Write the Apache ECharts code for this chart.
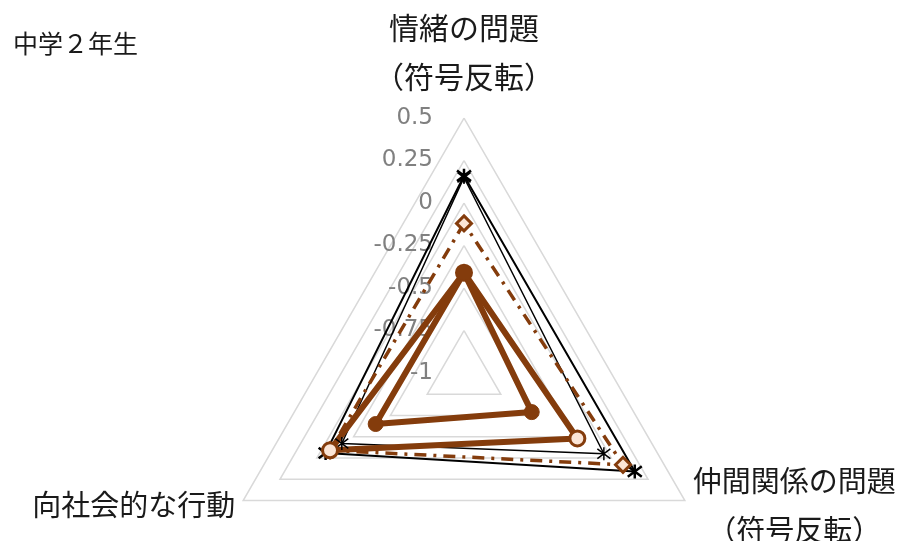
<!DOCTYPE html>
<html>
<head>
<meta charset="utf-8">
<script src="https://cdn.jsdelivr.net/npm/echarts@6/dist/echarts.min.js"></script>
<style>
  html, body { margin: 0; padding: 0; background: #fff; }
  #chart { width: 901px; height: 541px; }
</style>
</head>
<body>
<div id="chart"></div>
<script>
var chartTitle = '中学２年生';
// echarts puts indicators counterclockwise: top, lower left, lower right
var indicatorNames = ['情緒の問題\n（符号反転）', '向社会的な行動', '仲間関係の問題\n（符号反転）'];
var axisMin = -1;
var axisMax = 0.5;
var splitCount = 6; // -1 ... 0.5 by 0.25

// values in the same order as indicatorNames
var starThinValues = [0.15, -0.17, -0.05];
var starBoldValues = [0.16, -0.06, 0.16];
var diamondValues = [-0.12, -0.09, 0.08];
var hollowValues = [-0.41, -0.09, -0.23];
var filledValues = [-0.41, -0.40, -0.54];

var FONT = '"Noto Sans CJK JP", "Noto Sans", sans-serif';
var BROWN = '#843c0c';
var PALE = '#fbe5d6';
var STAR = 'path://M0,-10L0,10M-7.5,-7.5L7.5,7.5M-7.5,7.5L7.5,-7.5';

var chart = echarts.init(document.getElementById('chart'));

chart.setOption({
  animation: false,
  title: {
    text: chartTitle,
    left: 8,
    top: 23,
    textStyle: { fontSize: 25, fontWeight: 'normal', color: '#1a1a1a', fontFamily: FONT, lineHeight: 30 }
  },
  radar: {
    center: [464, 373],
    radius: 255,
    startAngle: 90,
    shape: 'polygon',
    splitNumber: splitCount,
    axisName: {
      color: '#1a1a1a',
      fontSize: 29,
      fontFamily: FONT,
      formatter: function (name) {
        // the top name is set a little larger, like in the original
        var key = name.indexOf('情緒') === 0 ? 't' : 'c';
        return name.split('\n').map(function (s) { return '{' + key + '|' + s + '}'; }).join('\n');
      },
      rich: {
        t: { fontSize: 30, lineHeight: 49, align: 'center', fontFamily: FONT, color: '#1a1a1a' },
        c: { fontSize: 29, lineHeight: 49, align: 'center', fontFamily: FONT, color: '#1a1a1a' }
      }
    },
    axisLine: { show: false },
    axisTick: { show: false },
    axisLabel: {
      show: true,
      color: '#808080',
      fontSize: 23,
      margin: 31,
      padding: [4, 0, 0, 0],
      fontFamily: '"DejaVu Sans", sans-serif'
    },
    splitLine: { lineStyle: { color: '#d9d9d9', width: 1.5 } },
    splitArea: { show: false },
    indicator: indicatorNames.map(function (name, i) {
      return {
        name: name,
        min: axisMin,
        max: axisMax,
        nameGap: i === 0 ? 17 : 9,
        axisLabel: { show: i === 0 }
      };
    })
  },
  series: [
    {
      type: 'radar',
      symbol: STAR,
      symbolSize: 13,
      lineStyle: { color: '#000', width: 1.5 },
      itemStyle: { color: '#000', borderColor: '#000', borderWidth: 1.5 },
      data: [{ value: starThinValues, name: 'series1' }]
    },
    {
      type: 'radar',
      symbol: STAR,
      symbolSize: 14,
      lineStyle: { color: '#000', width: 2 },
      itemStyle: { color: '#000', borderColor: '#000', borderWidth: 2.5 },
      data: [{ value: starBoldValues, name: 'series2' }]
    },
    {
      type: 'radar',
      symbol: 'diamond',
      symbolSize: 15,
      lineStyle: { color: BROWN, width: 3.5, type: [12, 7, 3, 7] },
      itemStyle: { color: PALE, borderColor: BROWN, borderWidth: 3 },
      data: [{ value: diamondValues, name: 'series3' }]
    },
    {
      type: 'radar',
      symbol: 'circle',
      symbolSize: 15,
      lineStyle: { color: BROWN, width: 6 },
      itemStyle: { color: PALE, borderColor: BROWN, borderWidth: 3 },
      data: [{ value: hollowValues, name: 'series4' }]
    },
    {
      type: 'radar',
      symbol: 'circle',
      symbolSize: 15,
      lineStyle: { color: BROWN, width: 6 },
      itemStyle: { color: BROWN, borderColor: BROWN, borderWidth: 1 },
      data: [{ value: filledValues, name: 'series5' }]
    }
  ]
});
</script>
</body>
</html>
